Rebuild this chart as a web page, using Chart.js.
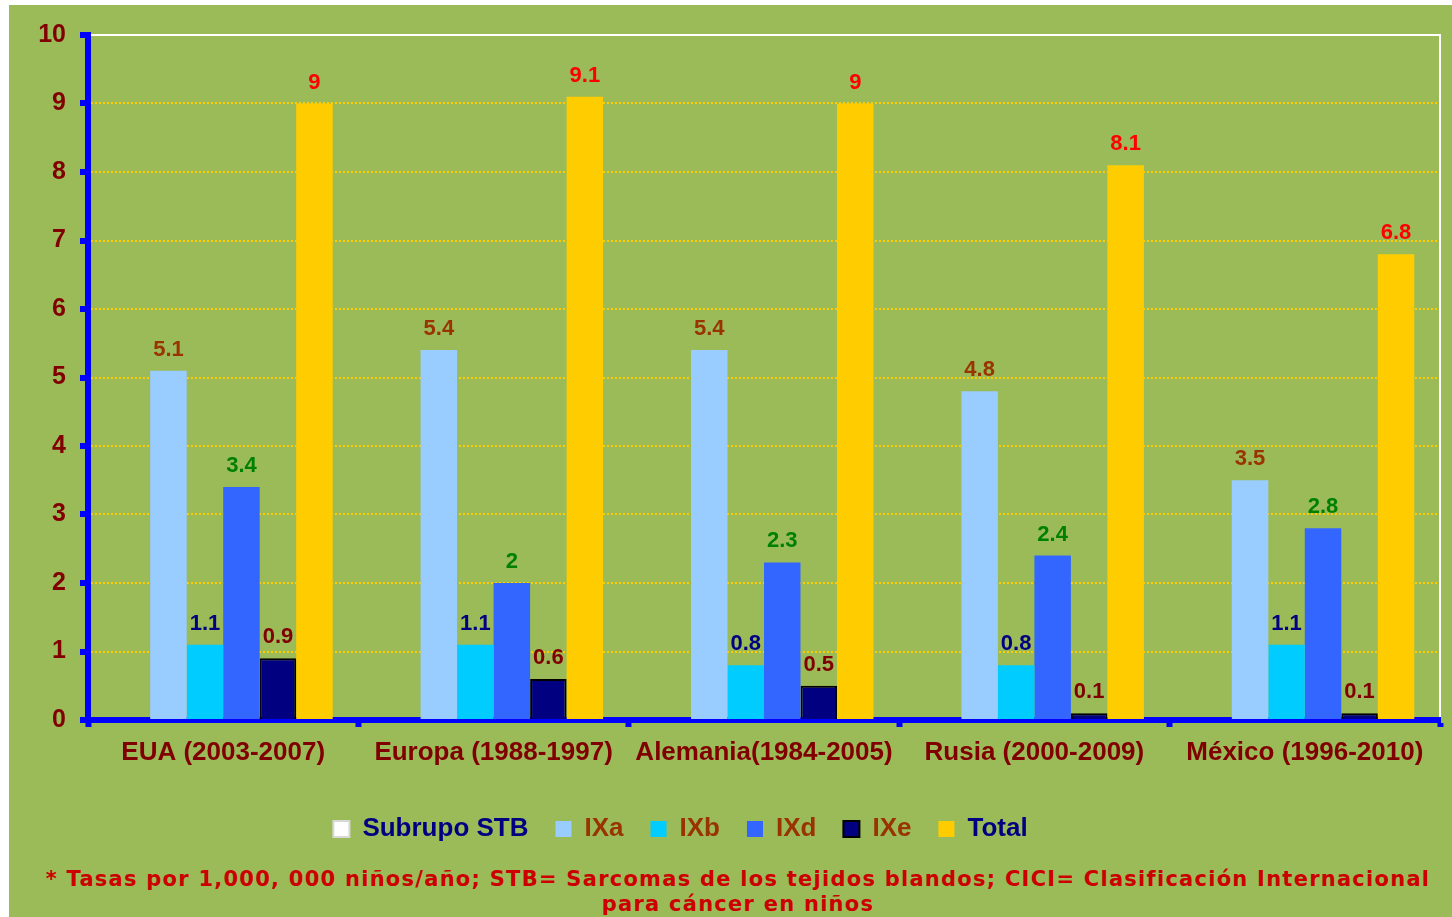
<!DOCTYPE html>
<html lang="es">
<head>
<meta charset="utf-8">
<title>Sarcomas de los tejidos blandos</title>
<script src="https://cdn.jsdelivr.net/npm/chart.js@4.4.1/dist/chart.umd.min.js"></script>
<style>
    html, body { margin: 0; padding: 0; background: #ffffff; }
    body { width: 1452px; height: 917px; position: relative; overflow: hidden; }
    #panel { position: absolute; left: 9px; top: 5px; width: 1443px; height: 912px; background: #9BBB59; }
    #chartBox { position: absolute; left: 0; top: 0; width: 1443px; height: 855px; }
    #nota {
        position: absolute; left: 0; top: 867px; width: 1452px;
        padding-left: 24px; box-sizing: border-box;
        text-align: center; color: #CC0000;
        font: bold 21px "DejaVu Sans", Verdana, sans-serif; line-height: 25px;
        letter-spacing: 1.25px; white-space: nowrap;
    }
</style>
</head>
<body>
<div id="panel">
    <div id="chartBox"><canvas id="stbChart"></canvas></div>
</div>
<div id="nota">* Tasas por 1,000, 000 niños/año; STB= Sarcomas de los tejidos blandos; CICI= Clasificación Internacional<br>para cáncer en niños</div>

<script>
// --- Datos ---
const paises = ['EUA (2003-2007)', 'Europa (1988-1997)', 'Alemania(1984-2005)', 'Rusia (2000-2009)', 'México (1996-2010)'];
const subgrupoSTB = [null, null, null, null, null];
const ixa = [5.1, 5.4, 5.4, 4.8, 3.5];
const ixb = [1.1, 1.1, 0.8, 0.8, 1.1];
const ixd = [3.4, 2, 2.3, 2.4, 2.8];
const ixe = [0.9, 0.6, 0.5, 0.1, 0.1];
const total = [9, 9.1, 9, 8.1, 6.8];
const yTicks = [0, 1, 2, 3, 4, 5, 6, 7, 8, 9, 10];

// color del texto de cada serie en la leyenda y en las etiquetas de valor
const legendColors = ['#000080', '#993300', '#993300', '#993300', '#993300', '#000080'];
const valueColors = ['#000080', '#993300', '#000080', '#008000', '#800000', '#FF0000'];

// --- Plugin: etiquetas de valor sobre cada barra ---
const valueLabels = {
    id: 'valueLabels',
    afterDatasetsDraw(chart) {
        const ctx = chart.ctx;
        ctx.save();
        ctx.font = 'bold 22px "Liberation Sans", Arial, sans-serif';
        ctx.textAlign = 'center';
        ctx.textBaseline = 'alphabetic';
        chart.data.datasets.forEach((ds, i) => {
            const meta = chart.getDatasetMeta(i);
            ctx.fillStyle = valueColors[i];
            meta.data.forEach((bar, j) => {
                const v = ds.data[j];
                if (v === null || v === undefined) return;
                ctx.fillText(String(v), bar.x, bar.y - 15);
            });
        });
        ctx.restore();
    }
};

// --- Plugin: marco blanco arriba y a la derecha del área del gráfico ---
const plotFrame = {
    id: 'plotFrame',
    beforeDatasetsDraw(chart) {
        const { ctx, chartArea: a } = chart;
        ctx.save();
        ctx.strokeStyle = '#FFFFFF';
        ctx.lineWidth = 2;
        ctx.beginPath();
        ctx.moveTo(a.left + 3, a.top);
        ctx.lineTo(a.right, a.top);
        ctx.lineTo(a.right, a.bottom - 3);
        ctx.stroke();
        ctx.restore();
    }
};

// la leyenda va un poco a la izquierda del centro del lienzo
const legendShift = {
    id: 'legendShift',
    afterLayout(chart) {
        if (chart.legend) {
            chart.legend.left -= 44;
            chart.legend.right -= 44;
        }
    }
};

const canvas = document.getElementById('stbChart');
new Chart(canvas.getContext('2d'), {
    type: 'bar',
    data: {
        labels: paises,
        datasets: [
            { label: 'Subrupo STB', data: subgrupoSTB, backgroundColor: '#FFFFFF', borderColor: '#DDDDDD', borderWidth: 0 },
            { label: 'IXa', data: ixa, backgroundColor: '#99CCFF', borderWidth: 0 },
            { label: 'IXb', data: ixb, backgroundColor: '#00CCFF', borderWidth: 0 },
            { label: 'IXd', data: ixd, backgroundColor: '#3366FF', borderWidth: 0 },
            { label: 'IXe', data: ixe, backgroundColor: '#000080', borderColor: '#000000', borderWidth: 2 },
            { label: 'Total', data: total, backgroundColor: '#FFCC00', borderWidth: 0 }
        ]
    },
    options: {
        responsive: true,
        maintainAspectRatio: false,
        animation: false,
        datasets: { bar: { categoryPercentage: 0.81, barPercentage: 1 } },
        layout: { padding: { top: 30, right: 12, left: 0, bottom: 8 } },
        plugins: {
            tooltip: { enabled: false },
            legend: {
                position: 'bottom',
                labels: {
                    boxWidth: 16,
                    boxHeight: 16,
                    padding: 27,
                    font: { family: '"Liberation Sans", Arial, sans-serif', size: 26, weight: 'bold' },
                    generateLabels(chart) {
                        return chart.data.datasets.map((ds, i) => ({
                            text: ds.label,
                            fillStyle: ds.backgroundColor,
                            strokeStyle: i === 0 ? '#D8D8D8' : (i === 4 ? '#000000' : ds.backgroundColor),
                            lineWidth: i === 0 || i === 4 ? 2 : 0,
                            fontColor: legendColors[i],
                            hidden: false,
                            datasetIndex: i
                        }));
                    }
                }
            }
        },
        scales: {
            x: {
                afterFit(scale) { scale.height = 69; },
                grid: {
                    offset: true,
                    drawOnChartArea: false,
                    color: 'rgba(0,0,0,0)',
                    tickColor: '#0000FF',
                    tickWidth: 6,
                    tickLength: 7
                },
                border: { display: true, color: '#0000FF', width: 6 },
                ticks: {
                    color: '#800000',
                    padding: 10,
                    maxRotation: 0,
                    autoSkip: false,
                    font: { family: '"Liberation Sans", Arial, sans-serif', size: 26, weight: 'bold' }
                }
            },
            y: {
                min: 0,
                max: 10,
                afterFit(scale) { scale.width = 79; },
                afterBuildTicks(scale) { scale.ticks = yTicks.map(v => ({ value: v })); },
                grid: {
                    color: (c) => (c.tick && c.tick.value > 0 && c.tick.value < 10) ? '#FFCC00' : 'rgba(0,0,0,0)',
                    lineWidth: 2,
                    tickColor: '#0000FF',
                    tickWidth: 6,
                    tickLength: 8,
                    tickBorderDash: []
                },
                border: { display: true, color: '#0000FF', width: 6, dash: [2, 2] },
                ticks: {
                    color: '#800000',
                    padding: 14,
                    font: { family: '"Liberation Sans", Arial, sans-serif', size: 25, weight: 'bold' }
                }
            }
        }
    },
    plugins: [plotFrame, valueLabels, legendShift]
});
</script>
</body>
</html>
